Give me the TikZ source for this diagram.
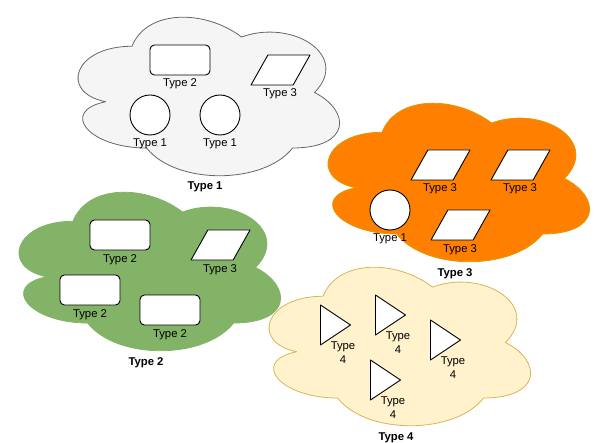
\documentclass[tikz,border=0pt]{standalone}
\usepackage{fontspec}
\setmainfont{Liberation Sans}
\usetikzlibrary{shapes.geometric}

\definecolor{cloudgray}{HTML}{F5F5F5}
\definecolor{cloudgrayline}{HTML}{666666}
\definecolor{cloudorange}{HTML}{FF8000}
\definecolor{cloudorangeline}{HTML}{E09A00}
\definecolor{cloudgreen}{HTML}{82B366}
\definecolor{cloudyellow}{HTML}{FFF2CC}
\definecolor{cloudyellowline}{HTML}{D6B656}

\newcommand\cloudw{292}
\newcommand\cloudh{185}

\begin{document}
\begin{tikzpicture}[x=1pt, y=-1pt, line join=round]
            \tikzset{
                lbl/.style = {anchor=base, inner sep=0pt, font=\fontsize{11.3}{14}\selectfont},
                title/.style = {lbl, font=\fontsize{11.3}{14}\selectfont\bfseries},
                item/.style = {draw=black, fill=white, line width=0.9pt, inner sep=0pt},
                rbox/.style = {item, rectangle, rounded corners=4.5pt, minimum width=60pt, minimum height=30pt},
                disc/.style = {item, circle, minimum size=40pt},
                slant/.style = {item, trapezium, inner sep=1pt, trapezium left angle=56.3, trapezium right angle=123.7,
                    trapezium stretches, minimum width=59pt, minimum height=30pt},
                tri/.style = {item, isosceles triangle, inner sep=1pt, isosceles triangle stretches,
                    minimum width=40pt, minimum height=30pt, anchor=lower side},
                tlbl/.style = {lbl, anchor=north, align=center},
                cloud/.pic = {
                    \path[pic actions, line width=0.8pt]
                        (0.25*\cloudw, 0.25*\cloudh)
                        .. controls (0.05*\cloudw, 0.25*\cloudh) and (0, 0.5*\cloudh) .. (0.16*\cloudw, 0.55*\cloudh)
                        .. controls (0, 0.6*\cloudh) and (0.1*\cloudw, 0.8*\cloudh) .. (0.3*\cloudw, 0.8*\cloudh)
                        .. controls (0.4*\cloudw, \cloudh) and (0.7*\cloudw, \cloudh) .. (0.8*\cloudw, 0.8*\cloudh)
                        .. controls (\cloudw, 0.8*\cloudh) and (\cloudw, 0.6*\cloudh) .. (0.875*\cloudw, 0.5*\cloudh)
                        .. controls (\cloudw, 0.3*\cloudh) and (0.8*\cloudw, 0.1*\cloudh) .. (0.625*\cloudw, 0.2*\cloudh)
                        .. controls (0.5*\cloudw, 0.05*\cloudh) and (0.3*\cloudw, 0.05*\cloudh) .. cycle;
                    \node[title] (-title) at (0.5*\cloudw, 190) {#1};
                }
            }

            \useasboundingbox (0, 0) rectangle (601, 443);

            % the four clouds
            \pic[draw=cloudgrayline, fill=cloudgray] (gray) at (59, 0) {cloud=Type 1};
            \pic[draw=cloudorangeline, fill=cloudorange] (orange) at (309, 86) {cloud=Type 3};
            \pic[draw=cloudgreen, fill=cloudgreen] (green) at (0, 175) {cloud=Type 2};
            \pic[draw=cloudyellowline, fill=cloudyellow] (yellow) at (250, 250) {cloud=Type 4};

            % gray cloud
            \node[rbox] (g2) at (180, 60) {};
            \node[lbl] (g2-l) at (180, 87) {Type 2};
            \node[slant] (g3) at (280.5, 70) {};
            \node[lbl] (g3-l) at (280, 97) {Type 3};
            \node[disc] (g1a) at (150, 115) {};
            \node[lbl] (g1a-l) at (150, 147) {Type 1};
            \node[disc] (g1b) at (220, 115) {};
            \node[lbl] (g1b-l) at (220, 147) {Type 1};

            % orange cloud
            \node[slant] (o3a) at (440.5, 165) {};
            \node[lbl] (o3a-l) at (440, 192) {Type 3};
            \node[slant] (o3b) at (520.5, 165) {};
            \node[lbl] (o3b-l) at (520, 192) {Type 3};
            \node[disc] (o1) at (390, 210) {};
            \node[lbl] (o1-l) at (390, 242) {Type 1};
            \node[slant] (o3c) at (460.5, 225) {};
            \node[lbl] (o3c-l) at (460, 252) {Type 3};

            % green cloud
            \node[rbox] (r2a) at (120, 235) {};
            \node[lbl] (r2a-l) at (120, 262) {Type 2};
            \node[slant] (r3) at (220.5, 245) {};
            \node[lbl] (r3-l) at (220, 272) {Type 3};
            \node[rbox] (r2b) at (90, 290) {};
            \node[lbl] (r2b-l) at (90, 317) {Type 2};
            \node[rbox] (r2c) at (170, 310) {};
            \node[lbl] (r2c-l) at (170, 337) {Type 2};

            % yellow cloud
            \node[tri] (y4a) at (320, 325) {};
            \node[tlbl] (y4a-l) at (343, 342) {Type\\4};
            \node[tri] (y4b) at (375, 315) {};
            \node[tlbl] (y4b-l) at (398, 332) {Type\\4};
            \node[tri] (y4c) at (430, 340) {};
            \node[tlbl] (y4c-l) at (453, 357) {Type\\4};
            \node[tri] (y4d) at (370, 380) {};
            \node[tlbl] (y4d-l) at (393, 397) {Type\\4};
\end{tikzpicture}
\end{document}
